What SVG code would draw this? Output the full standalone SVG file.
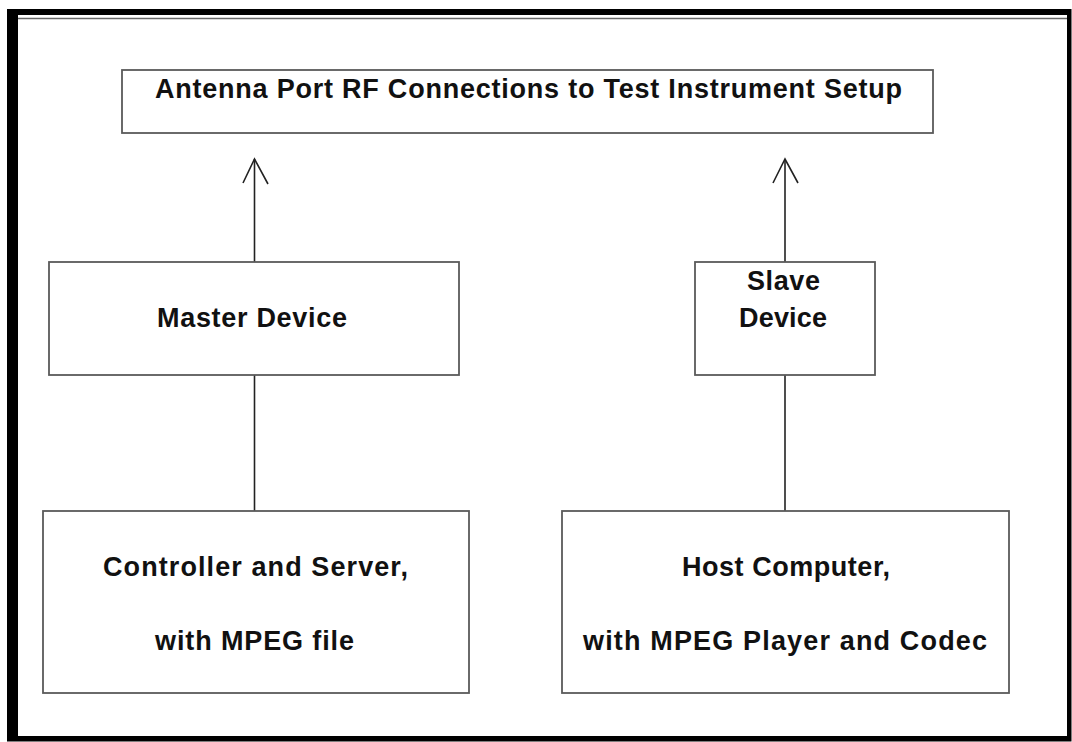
<svg xmlns="http://www.w3.org/2000/svg" width="1072" height="742" viewBox="0 0 1072 742">
<style>
.box{fill:#fff;stroke:#5a5a5a;stroke-width:1.8}
.lbl{font-family:"Liberation Sans",Arial,sans-serif;font-weight:bold;font-size:27px;fill:#111}
.conn{stroke:#222;stroke-width:1.6;fill:none}
.head{stroke:#222;stroke-width:1.6;fill:none;stroke-linejoin:miter}
</style>
<rect x="0" y="0" width="1072" height="742" fill="#fff"/>
<g id="frame">
<path d="M7 9H1071.5V741.5H7Z M18 15V736H1067V15Z" fill="#000" fill-rule="evenodd"/>
<line x1="18" y1="18.5" x2="1067" y2="18.5" stroke="#666" stroke-width="1.5"/>
</g>
<g id="connectors">
<line class="conn" x1="254.5" y1="262" x2="254.5" y2="159"/>
<polyline class="head" points="243,183 254.5,159 268,184"/>
<line class="conn" x1="785" y1="262" x2="785" y2="159"/>
<polyline class="head" points="773,183 785,159 798,183"/>
<line class="conn" x1="254.5" y1="375" x2="254.5" y2="511"/>
<line class="conn" x1="785" y1="375" x2="785" y2="511"/>
</g>
<g id="node-antenna">
<rect class="box" x="122" y="70" width="811" height="63"/>
<text class="lbl" x="155" y="98" textLength="747" lengthAdjust="spacing">Antenna Port RF Connections to Test Instrument Setup</text>
</g>
<g id="node-master">
<rect class="box" x="49" y="262" width="410" height="113"/>
<text class="lbl" x="157" y="327" textLength="190" lengthAdjust="spacing">Master Device</text>
</g>
<g id="node-slave">
<rect class="box" x="695" y="262" width="180" height="113"/>
<text class="lbl" x="747" y="290" textLength="73" lengthAdjust="spacing">Slave</text>
<text class="lbl" x="739" y="327" textLength="88" lengthAdjust="spacing">Device</text>
</g>
<g id="node-controller">
<rect class="box" x="43" y="511" width="426" height="182"/>
<text class="lbl" x="103" y="576" textLength="305" lengthAdjust="spacing">Controller and Server,</text>
<text class="lbl" x="155" y="650" textLength="199" lengthAdjust="spacing">with MPEG file</text>
</g>
<g id="node-host">
<rect class="box" x="562" y="511" width="447" height="182"/>
<text class="lbl" x="682" y="576" textLength="208" lengthAdjust="spacing">Host Computer,</text>
<text class="lbl" x="583" y="650" textLength="404" lengthAdjust="spacing">with MPEG Player and Codec</text>
</g>
</svg>
